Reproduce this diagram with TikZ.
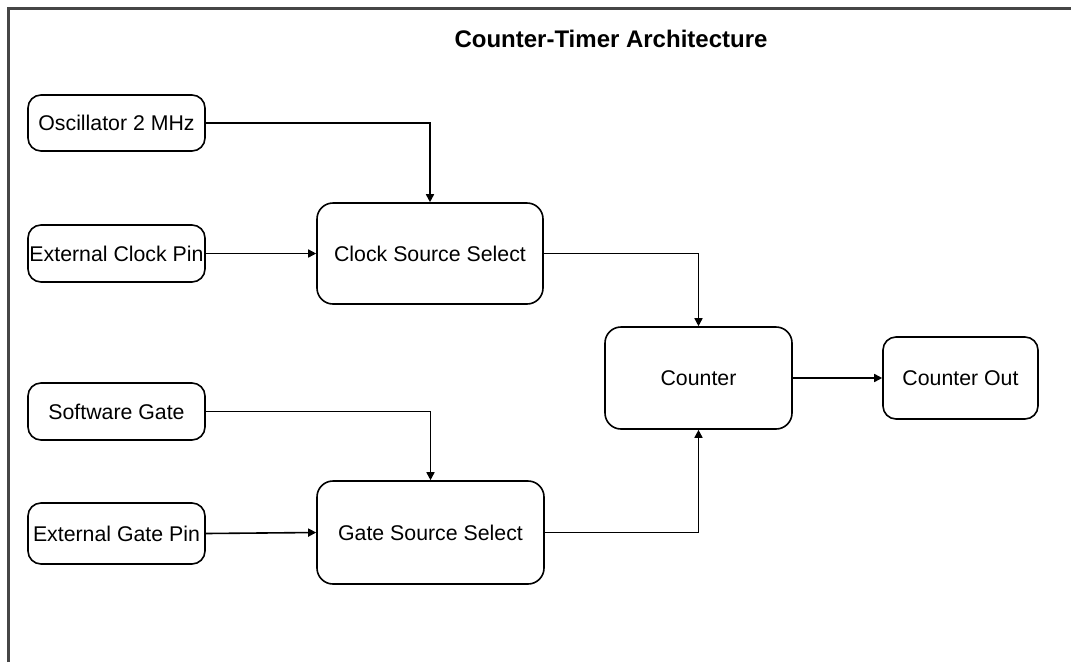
\documentclass[tikz,border=0pt]{standalone}
\usepackage{fontspec}
\setmainfont{Liberation Sans}
\usetikzlibrary{arrows.meta}
\definecolor{framegray}{RGB}{70,70,70}
\tikzset{
  blk/.style={draw=black, line width=1.6pt, rounded corners=13pt, inner sep=0pt,
    font=\fontsize{21.3}{25}\selectfont, align=center},
  arr/.style={draw=black, line width=1.6pt, -{Triangle[length=8pt,width=8pt]}},
}
\begin{document}
\begin{tikzpicture}[x=1pt,y=-1pt]
\useasboundingbox (0,0) rectangle (1071,662);
\fill[white] (0,0) rectangle (1071,662);
\draw[framegray, line width=3pt] (8,662) -- (8,8) -- (1071,8);
\node[font=\bfseries\fontsize{24}{28}\selectfont] (title) at (611,39) {Counter-Timer Architecture};
\node[blk, minimum width=177pt, minimum height=56pt] (osc) at (116.5,123) {Oscillator 2 MHz};
\node[blk, minimum width=177pt, minimum height=57pt] (extclk) at (116.5,253.5) {External Clock Pin};
\node[blk, minimum width=226pt, minimum height=101pt, rounded corners=16pt] (clk) at (430,253.5) {Clock Source Select};
\node[blk, minimum width=177pt, minimum height=57pt] (sw) at (116.5,411.5) {Software Gate};
\node[blk, minimum width=177pt, minimum height=61pt] (extgate) at (116.5,533.5) {External Gate Pin};
\node[blk, minimum width=227pt, minimum height=103pt, rounded corners=16pt] (gate) at (430.5,532.5) {Gate Source Select};
\node[blk, minimum width=187pt, minimum height=102pt, rounded corners=16pt] (counter) at (698.5,378) {Counter};
\node[blk, minimum width=155pt, minimum height=82pt] (out) at (960.5,378) {Counter Out};
\draw[arr] (osc.east) -| (clk.north);
\draw[arr] (extclk.east) -- (clk.west);
\draw[arr] (clk.east) -| (counter.north);
\draw[arr] (sw.east) -| (gate.north);
\draw[arr] (extgate.east) -- (gate.west);
\draw[arr] (gate.east) -| (counter.south);
\draw[arr] (counter.east) -- (out.west);
\end{tikzpicture}
\end{document}
